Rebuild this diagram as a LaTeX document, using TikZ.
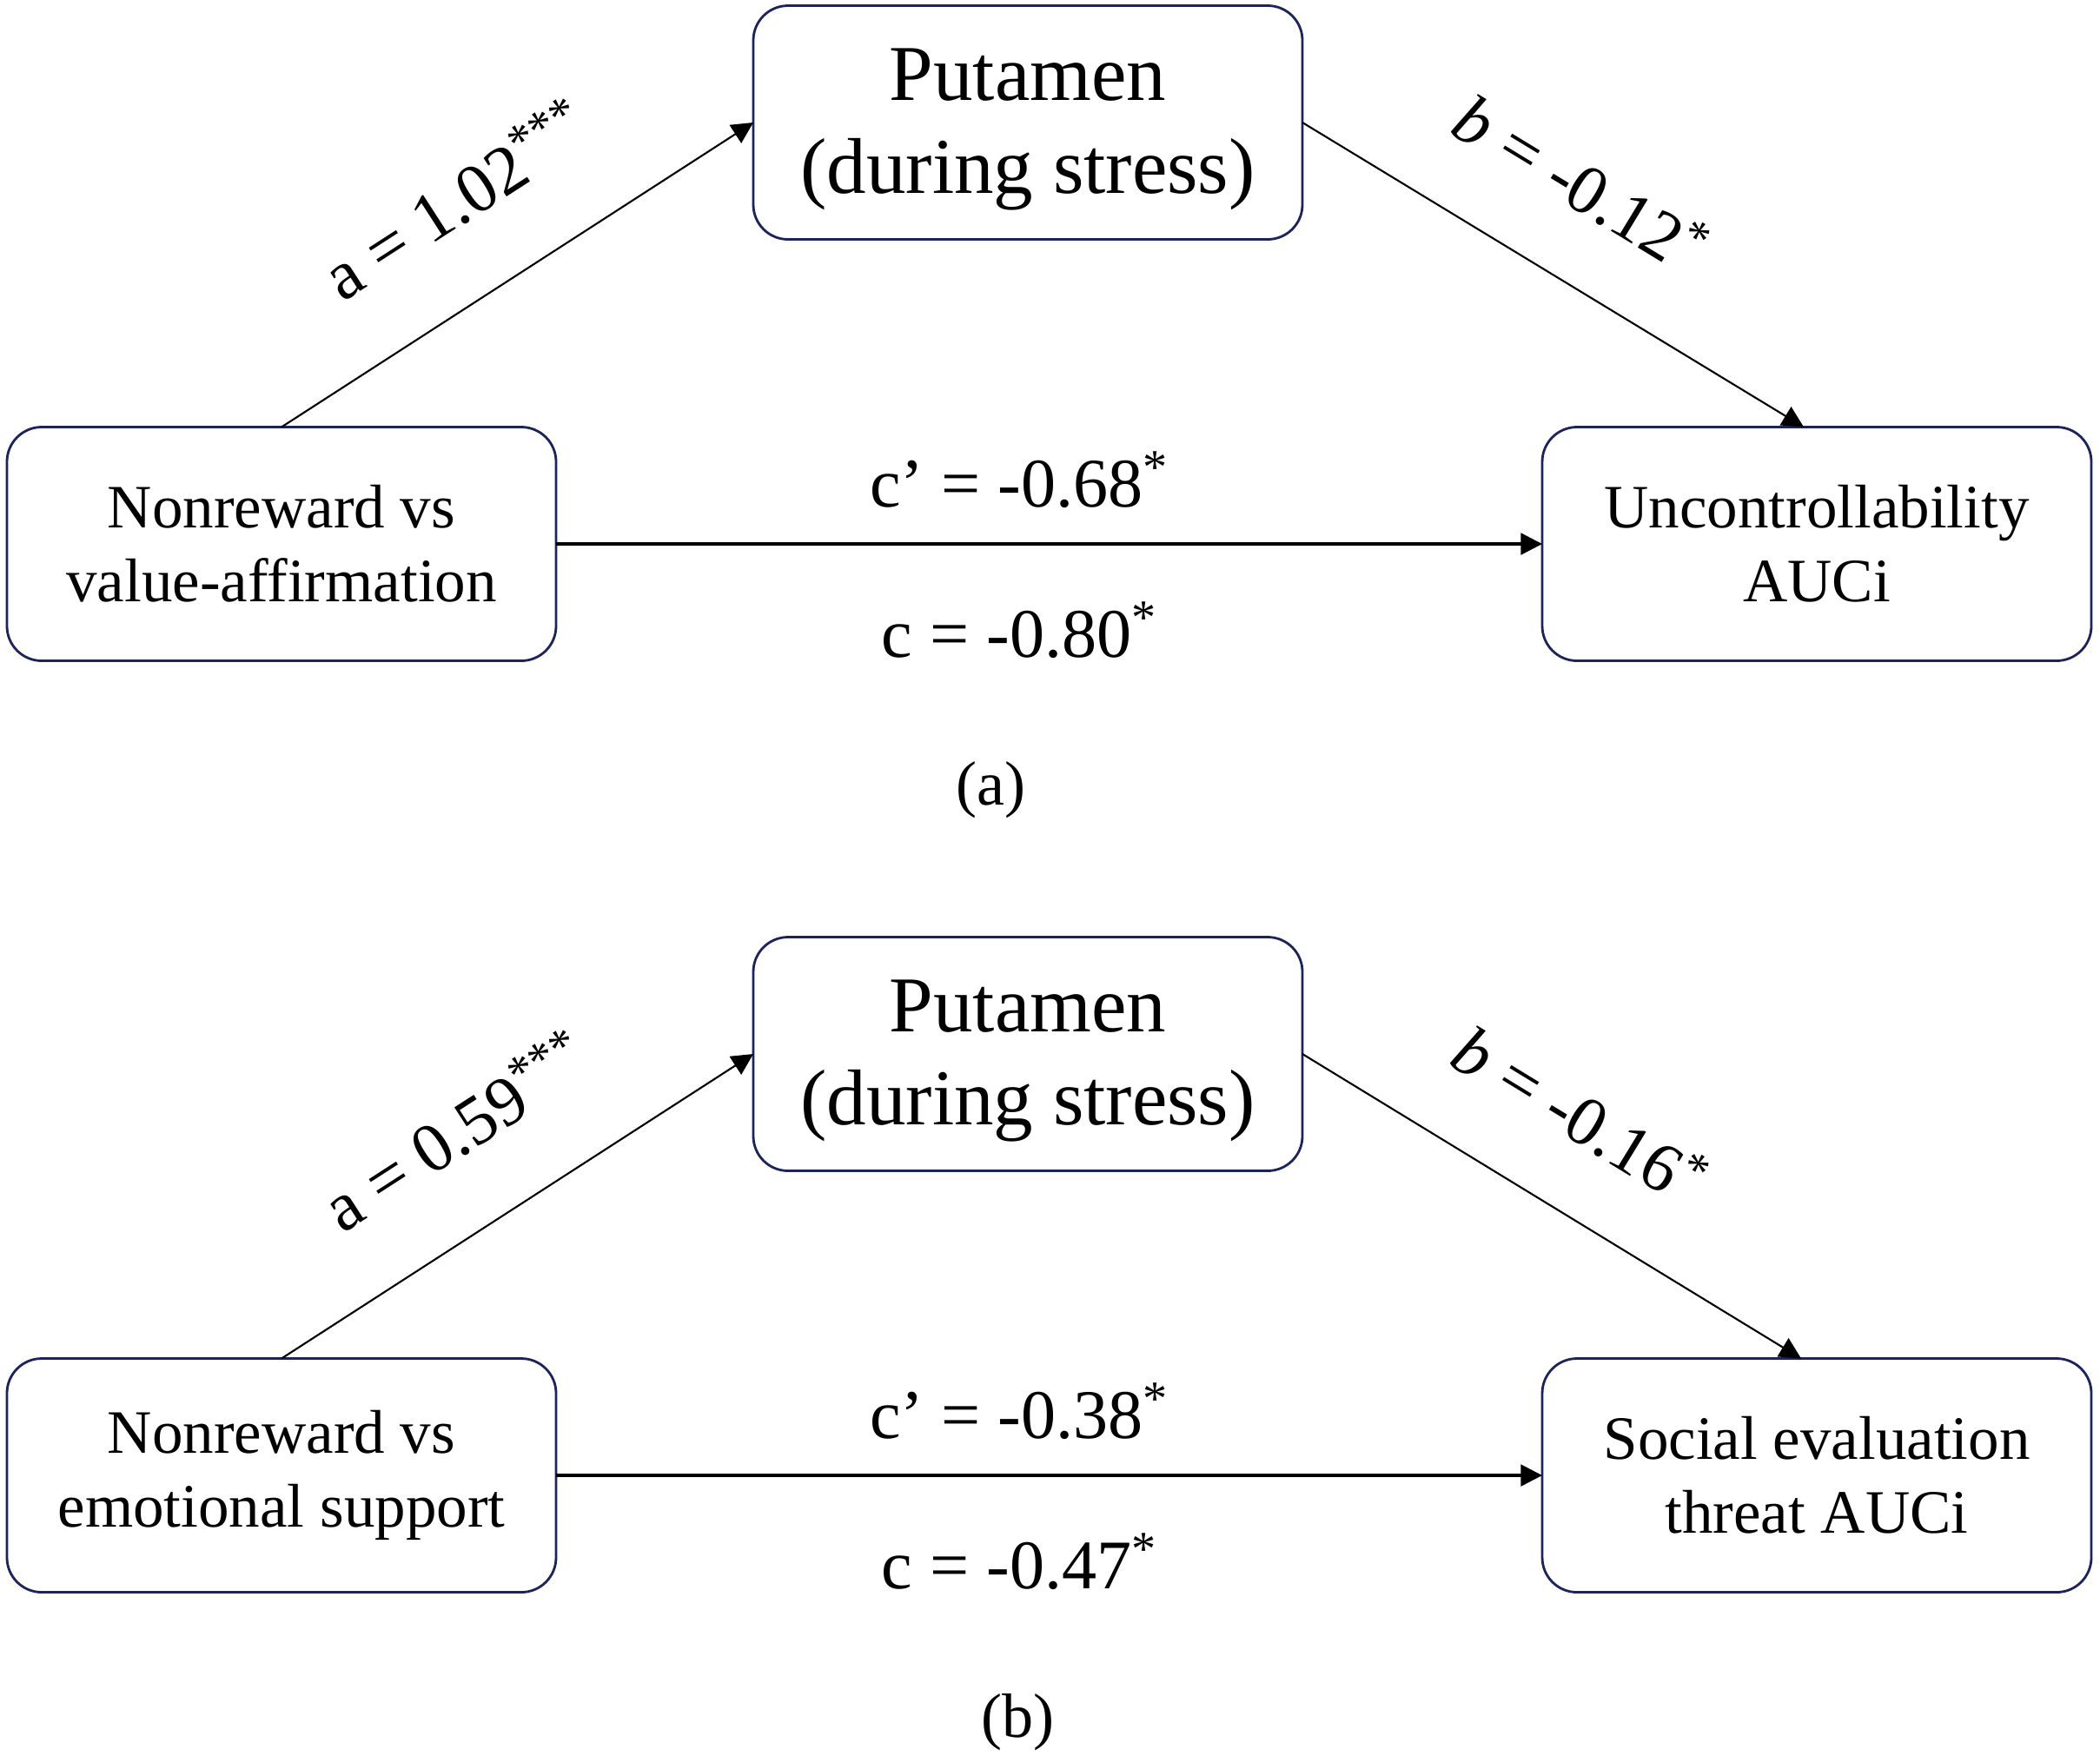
\documentclass[tikz,border=0pt]{standalone}
\usepackage{fontspec}
\setmainfont{Liberation Serif}
\usepackage{tikz}
\usetikzlibrary{arrows.meta, positioning}
\definecolor{BoxNavy}{RGB}{28, 36, 90}
\tikzset{
  box/.style={rectangle, rounded corners=0.4cm, draw=BoxNavy, line width=0.8pt,
              minimum width=6.32cm, minimum height=2.69cm, inner sep=0pt, outer sep=0pt,
              font=\fontsize{20.2}{24.2}\selectfont, text=black, align=center},
  bigbox/.style={box, font=\fontsize{25.9}{30.4}\selectfont},
  arr/.style={-{Triangle[length=7pt, width=7pt]}, line width=0.6pt, color=black},
  lab/.style={inner sep=0pt, font=\fontsize{22.8}{27}\selectfont},
  capt/.style={inner sep=0pt, font=\fontsize{20.5}{24}\selectfont},
}
\begin{document}
\begin{tikzpicture}
      \useasboundingbox (0,0) rectangle (24.17,-20.20);

      % panel (a)
      \node[bigbox] (putA) at (11.83,-1.41) {\rule{0pt}{21.6pt}Putamen\\(during stress)};
      \node[box, below left=2.16cm and 2.27cm of putA] (lboxA)
           {Nonreward vs\\value-affirmation};
      \node[box, below right=2.16cm and 2.76cm of putA] (rboxA)
           {Uncontrollability\\AUCi};
      \node[capt, anchor=base] (capA) at (11.40,-9.26) {(a)};

      \draw[arr] (lboxA.north) -- node[lab, sloped, pos=0.48, above=0.8cm]
           {a = 1.02\textsuperscript{***}} (putA.west);
      \draw[arr] (putA.east) -- node[lab, sloped, pos=0.46, above=0.75cm]
           {\textit{b} = -0.12\textsuperscript{*}} ([xshift=-0.15cm]rboxA.north);
      \draw[arr, line width=0.9pt] (lboxA) --
           node[lab, pos=0.47, anchor=base, yshift=0.43cm] {c’ = -0.68\textsuperscript{*}}
           node[lab, pos=0.47, anchor=base, yshift=-1.30cm] {c = -0.80\textsuperscript{*}} (rboxA);

      % panel (b)
      \node[bigbox, below=8.03cm of putA] (putB) {\rule{0pt}{21.6pt}Putamen\\(during stress)};
      \node[box, below left=2.16cm and 2.27cm of putB] (lboxB)
           {Nonreward vs\\emotional support};
      \node[box, below right=2.16cm and 2.76cm of putB] (rboxB)
           {Social evaluation\\threat AUCi};
      \node[capt, anchor=base] (capB) at (11.71,-19.99) {(b)};

      \draw[arr] (lboxB.north) -- node[lab, sloped, pos=0.48, above=0.8cm]
           {a = 0.59\textsuperscript{***}} (putB.west);
      \draw[arr] (putB.east) -- node[lab, sloped, pos=0.46, above=0.75cm]
           {\textit{b} = -0.16\textsuperscript{*}} ([xshift=-0.18cm]rboxB.north);
      \draw[arr, line width=0.9pt] (lboxB) --
           node[lab, pos=0.47, anchor=base, yshift=0.43cm] {c’ = -0.38\textsuperscript{*}}
           node[lab, pos=0.47, anchor=base, yshift=-1.30cm] {c = -0.47\textsuperscript{*}} (rboxB);
\end{tikzpicture}
\end{document}
